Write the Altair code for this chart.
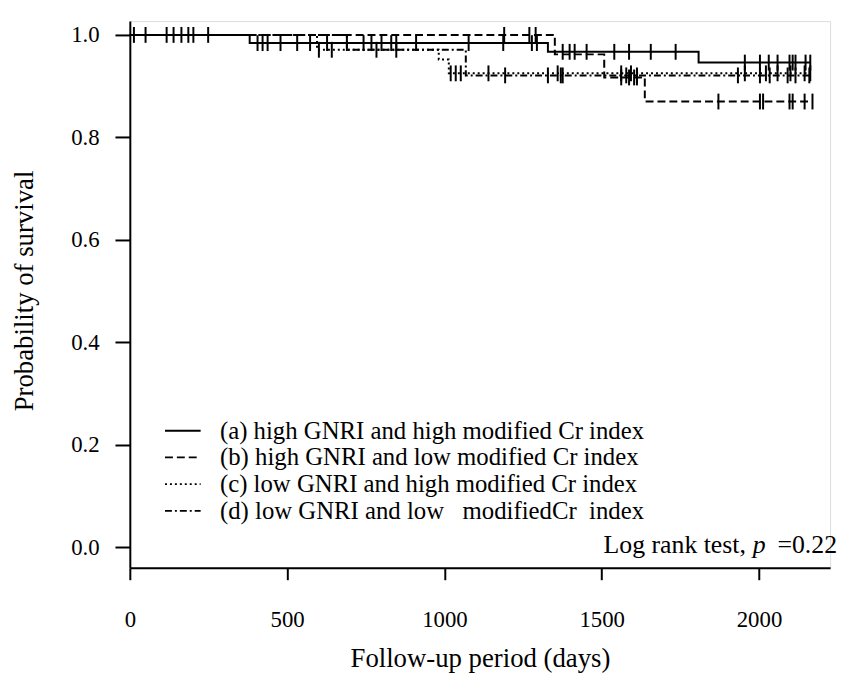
import altair as alt
import pandas as pd

FONT = "Liberation Serif"

groups = [
    "(a) high GNRI and high modified Cr index",
    "(b) high GNRI and low modified Cr index",
    "(c) low GNRI and high modified Cr index",
    "(d) low GNRI and low\u00a0\u00a0\u00a0modifiedCr\u00a0\u00a0index",
]
dashes = [[1, 0], [8, 4], [2, 3], [7, 3, 2, 3]]

# Kaplan-Meier steps: day at which survival changes, survival after the change
a_days = [0, 381, 1329, 1808, 2163]
a_surv = [1.0, 0.984, 0.967, 0.946, 0.946]
b_days = [0, 1351, 1508, 1637, 2170]
b_surv = [1.0, 0.962, 0.917, 0.870, 0.870]
c_days = [0, 595, 982, 1014, 2163]
c_surv = [1.0, 0.971, 0.952, 0.925, 0.925]
d_days = [0, 690, 1068, 2160]
d_surv = [1.0, 0.971, 0.921, 0.921]

# censoring times (days)
a_cens = [13, 50, 117, 139, 164, 186, 202, 249, 406, 422, 438, 479, 532, 573, 627,
          690, 743, 768, 800, 831, 847, 910, 1077, 1187, 1278, 1294, 1376, 1398,
          1414, 1452, 1540, 1587, 1656, 1735, 1955, 2003, 2031, 2059, 2097, 2107,
          2116, 2148, 2163]
b_cens = [1190, 1270, 1290, 1562, 1587, 1603, 1612, 1871, 2003, 2013, 2097, 2107,
          2145, 2170]
c_cens = [601, 642, 1020, 1036, 1052, 1140, 1360, 1562, 1593, 1955, 2022, 2059,
          2100, 2145, 2163]
d_cens = [784, 847, 1193, 1329, 1370, 1376, 1578, 1612, 1933, 2003, 2034, 2091,
          2116, 2160]

x_ticks = [0, 500, 1000, 1500, 2000]
y_ticks = [0.0, 0.2, 0.4, 0.6, 0.8, 1.0]

steps = [(a_days, a_surv), (b_days, b_surv), (c_days, c_surv), (d_days, d_surv)]
cens = [a_cens, b_cens, c_cens, d_cens]

line_rows, cens_rows = [], []
for g, (ds, ss), cs in zip(groups, steps, cens):
    for d, s in zip(ds, ss):
        line_rows.append({"group": g, "day": d, "surv": s})
    for c in cs:
        s_at = [s for d, s in zip(ds, ss) if d <= c][-1]
        cens_rows.append({"group": g, "day": c, "surv": s_at})
line_df = pd.DataFrame(line_rows)
cens_df = pd.DataFrame(cens_rows)

xscale = alt.Scale(domain=[0, 2226], nice=False, zero=False)
yscale = alt.Scale(domain=[-0.04, 1.027], nice=False, zero=False)

x_axis = alt.Axis(
    values=x_ticks, format="d", title="Follow-up period (days)", grid=False,
    domainColor="black", domainWidth=2, tickColor="black", tickWidth=2, tickSize=12,
    labelFont=FONT, labelFontSize=23, labelColor="black", labelBaseline="alphabetic",
    labelPadding=47, labelFlush=False,
    titleFont=FONT, titleFontSize=27, titleFontWeight="normal", titleColor="black",
    titleBaseline="middle", titleY=92,
)
y_axis = alt.Axis(
    values=y_ticks, format=".1f", title="Probability of survival", grid=False,
    domainColor="black", domainWidth=2, tickColor="black", tickWidth=2, tickSize=15,
    labelFont=FONT, labelFontSize=23, labelColor="black", labelPadding=16,
    labelBaseline="middle", labelFlush=False,
    titleFont=FONT, titleFontSize=27, titleFontWeight="normal", titleColor="black",
    titleAngle=270, titleBaseline="middle", titleAlign="center", titleX=-106, titleY=272,
)

lines = alt.Chart(line_df).mark_line(
    interpolate="step-after", color="black", strokeWidth=2
).encode(
    x=alt.X("day:Q", scale=xscale, axis=x_axis),
    y=alt.Y("surv:Q", scale=yscale, axis=y_axis),
    strokeDash=alt.StrokeDash(
        "group:N",
        scale=alt.Scale(domain=groups, range=dashes),
        legend=alt.Legend(
            title=None, orient="none", legendX=41, legendY=401,
            symbolType="M-3.6,0H3.6", symbolSize=100, symbolStrokeWidth=2,
            symbolStrokeColor="black", labelFont=FONT, labelFontSize=25,
            labelColor="black", labelOffset=25, rowPadding=1, padding=0,
            labelLimit=0,
        ),
    ),
)

ticks = alt.Chart(cens_df).mark_tick(
    orient="vertical", size=16, thickness=2, color="black", opacity=1
).encode(
    x=alt.X("day:Q", scale=xscale),
    y=alt.Y("surv:Q", scale=yscale),
)

ann_df = pd.DataFrame({"day": [2248], "surv": [-0.011]})
ann_base = alt.Chart(ann_df).encode(x=alt.X("day:Q", scale=xscale), y=alt.Y("surv:Q", scale=yscale))
t1 = ann_base.mark_text(text="=0.22", align="right", baseline="alphabetic",
                        font=FONT, fontSize=26, color="black")
t2 = ann_base.mark_text(text="p", align="right", baseline="alphabetic", dx=-72,
                        font=FONT, fontSize=26, fontStyle="italic", color="black")
t3 = ann_base.mark_text(text="Log rank test,", align="right", baseline="alphabetic", dx=-92,
                        font=FONT, fontSize=26, color="black")

chart = alt.layer(lines, ticks, t1, t2, t3).properties(
    width=707, height=552,
    autosize=alt.AutoSizeParams(type="none"),
    padding={"left": 123, "top": 10, "right": 10, "bottom": 104},
).configure_view(stroke=None).configure(background="white")

chart.save("out.html", embed_options={"renderer": "svg", "actions": False})
